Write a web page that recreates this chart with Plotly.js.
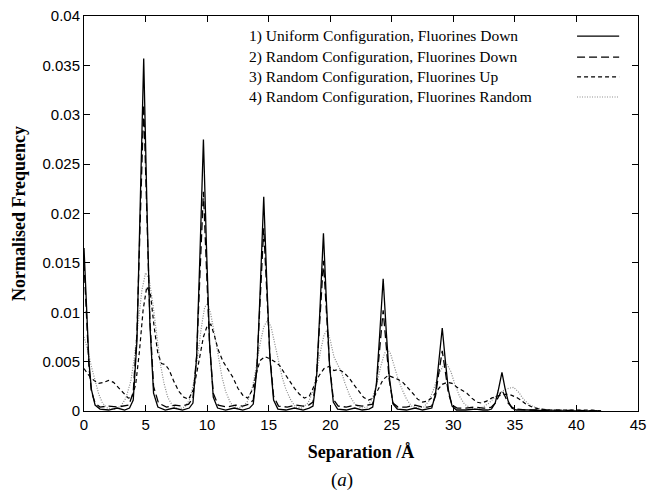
<!DOCTYPE html>
<html>
<head>
<meta charset="utf-8">
<script src="https://cdn.plot.ly/plotly-3.0.1.min.js"></script>
<style>html,body{margin:0;padding:0;background:#fff;}#chart{width:651px;height:493px;}</style>
</head>
<body>
<div id="chart"></div>
<script>
// Series names
const seriesNames = [
  "1) Uniform Configuration, Fluorines Down",
  "2) Random Configuration, Fluorines Down",
  "3) Random Configuration, Fluorines Up",
  "4) Random Configuration, Fluorines Random"
];

// 1) Uniform, Fluorines Down (solid)
const sep1 = [0,0.2,0.4,0.6,0.9,1.3,2.0,2.7,3.3,3.7,4.0,4.3,4.55,4.85,5.1,5.35,5.65,6.0,6.6,7.3,8.0,
  8.55,8.85,9.15,9.4,9.7,9.95,10.2,10.5,10.85,11.5,12.2,12.9,
  13.45,13.75,14.05,14.3,14.6,14.85,15.1,15.4,15.75,16.4,17.1,17.8,
  18.3,18.6,18.9,19.15,19.45,19.7,19.95,20.25,20.6,21.3,22.0,22.6,
  23.15,23.45,23.75,24.0,24.3,24.55,24.8,25.1,25.45,26.2,26.9,27.5,
  27.95,28.25,28.55,28.8,29.1,29.35,29.6,29.9,30.25,31.0,31.8,32.4,
  32.8,33.1,33.4,33.65,33.95,34.2,34.45,34.75,35.1,36.0,38.0,42.0];
const freq1 = [0.0165,0.0100,0.0050,0.0022,0.0006,0.0002,0.0001,0.0003,0.0001,0.0003,0.0011,0.0071,0.0196,0.0357,0.0214,0.0089,0.0018,0.0004,0.0001,0.0003,0.0001,
  0.0003,0.0008,0.0055,0.0151,0.0275,0.0165,0.0069,0.0014,0.0003,0.0001,0.0003,0.0001,
  0.0003,0.0007,0.0043,0.0119,0.0217,0.0130,0.0054,0.0011,0.0002,0.0001,0.0003,0.0001,
  0.0003,0.0005,0.0036,0.0099,0.0180,0.0108,0.0045,0.0009,0.0002,0.0001,0.0003,0.0001,
  0.0002,0.0004,0.0027,0.0074,0.0134,0.0081,0.0034,0.0007,0.0002,0.0001,0.0003,0.0001,
  0.0002,0.0003,0.0017,0.0046,0.0084,0.0051,0.0021,0.0005,0.0001,0.0001,0.0002,0.0001,
  0.0001,0.0002,0.0008,0.0021,0.0039,0.0023,0.0010,0.0003,0.0001,0.0001,0.0000,0.0000];

// 2) Random, Fluorines Down (long dash)
const sep2 = [0,0.2,0.4,0.6,0.9,1.3,2.0,2.7,3.3,3.65,4.0,4.3,4.55,4.85,5.1,5.35,5.65,6.05,6.7,7.4,8.0,
  8.5,8.85,9.15,9.4,9.7,9.95,10.2,10.5,10.9,11.6,12.3,12.9,
  13.4,13.75,14.05,14.3,14.6,14.85,15.1,15.4,15.8,16.5,17.2,17.8,
  18.25,18.6,18.9,19.15,19.45,19.7,19.95,20.25,20.65,21.3,22.0,22.6,
  23.1,23.45,23.75,24.0,24.3,24.55,24.8,25.1,25.5,26.2,26.9,27.5,
  27.9,28.25,28.55,28.8,29.1,29.35,29.6,29.9,30.3,31.0,31.8,32.4,
  32.75,33.1,33.4,33.65,33.95,34.2,34.45,34.75,35.15,36.0,38.0,42.0];
const freq2 = [0.0150,0.0090,0.0045,0.0020,0.0008,0.0004,0.0005,0.0004,0.0005,0.0006,0.0019,0.0078,0.0186,0.0310,0.0202,0.0093,0.0025,0.0008,0.0004,0.0006,0.0005,
  0.0007,0.0013,0.0056,0.0133,0.0222,0.0144,0.0067,0.0018,0.0006,0.0004,0.0006,0.0005,
  0.0007,0.0011,0.0046,0.0111,0.0185,0.0120,0.0056,0.0015,0.0005,0.0004,0.0006,0.0005,
  0.0006,0.0009,0.0038,0.0091,0.0152,0.0099,0.0046,0.0012,0.0005,0.0004,0.0006,0.0005,
  0.0006,0.0007,0.0026,0.0061,0.0102,0.0066,0.0031,0.0008,0.0004,0.0004,0.0006,0.0004,
  0.0004,0.0005,0.0015,0.0037,0.0061,0.0040,0.0018,0.0006,0.0003,0.0003,0.0004,0.0003,
  0.0003,0.0004,0.0008,0.0014,0.0021,0.0015,0.0008,0.0004,0.0002,0.0001,0.0001,0.0000];

// 3) Random, Fluorines Up (short dash)
const sep3 = [0,0.4,0.8,1.2,1.6,2.0,2.4,2.8,3.2,3.6,3.9,4.2,4.5,4.8,5.1,5.4,5.7,6.0,6.3,6.6,6.9,7.3,7.7,8.1,8.5,
  8.9,9.3,9.7,10.0,10.3,10.6,10.9,11.3,11.7,12.1,12.5,12.9,13.3,
  13.7,14.0,14.3,14.7,15.1,15.5,15.9,16.3,16.7,17.1,17.5,17.9,
  18.3,18.7,19.1,19.5,19.9,20.3,20.7,21.1,21.5,21.9,22.3,22.7,23.1,
  23.5,23.9,24.3,24.7,25.1,25.5,25.9,26.3,26.7,27.1,27.5,
  27.9,28.3,28.7,29.1,29.5,29.9,30.3,30.7,31.1,31.5,31.9,32.3,
  32.7,33.1,33.5,33.9,34.3,34.7,35.1,35.5,35.9,36.4,37.0,38.0,40.0,41.3,42.0];
const freq3 = [0.0043,0.0036,0.0031,0.0028,0.0029,0.0031,0.0029,0.0024,0.0018,0.0013,0.0014,0.0027,0.0060,0.0102,0.0126,0.0118,0.0085,0.0058,0.0048,0.0047,0.0042,0.0030,0.0020,0.0014,0.0012,
  0.0022,0.0048,0.0075,0.0086,0.0088,0.0076,0.0062,0.0050,0.0042,0.0034,0.0023,0.0016,0.0013,
  0.0022,0.0038,0.0051,0.0055,0.0053,0.0050,0.0046,0.0038,0.0030,0.0023,0.0017,0.0013,
  0.0015,0.0025,0.0036,0.0043,0.0045,0.0041,0.0042,0.0039,0.0034,0.0027,0.0020,0.0014,0.0011,
  0.0013,0.0022,0.0032,0.0036,0.0034,0.0032,0.0029,0.0024,0.0018,0.0012,0.0009,
  0.0010,0.0014,0.0021,0.0027,0.0029,0.0028,0.0024,0.0021,0.0018,0.0013,0.0009,0.0008,
  0.0010,0.0013,0.0015,0.0016,0.0017,0.0016,0.0014,0.0011,0.0007,0.0004,0.0002,0.0001,0.0001,0.0001,0.0000];

// 4) Random, Fluorines Random (dotted)
const sep4 = [0,0.3,0.6,0.9,1.2,1.5,1.9,2.5,3.0,3.4,3.8,4.1,4.4,4.7,5.0,5.3,5.6,5.9,6.2,6.5,6.8,7.2,7.7,
  8.2,8.6,8.9,9.2,9.5,9.8,10.05,10.3,10.6,10.9,11.2,11.5,11.9,12.4,
  12.9,13.3,13.7,14.0,14.3,14.6,14.9,15.2,15.5,15.8,16.1,16.4,16.8,17.2,17.7,
  18.2,18.6,18.9,19.2,19.5,19.75,20.0,20.3,20.6,20.9,21.2,21.6,22.0,22.5,
  23.0,23.4,23.8,24.1,24.4,24.65,24.9,25.2,25.5,25.8,26.2,26.6,27.1,
  27.6,28.0,28.4,28.8,29.2,29.5,29.8,30.1,30.5,30.9,31.4,31.9,
  32.4,32.9,33.3,33.7,34.1,34.5,34.9,35.3,35.7,36.2,36.8,37.5,39.0,42.0];
const freq4 = [0.0075,0.0062,0.0045,0.0030,0.0017,0.0008,0.0003,0.0002,0.0005,0.0013,0.0030,0.0055,0.0088,0.0122,0.0140,0.0133,0.0108,0.0075,0.0048,0.0028,0.0014,0.0005,0.0002,
  0.0004,0.0012,0.0028,0.0052,0.0082,0.0105,0.0109,0.0098,0.0078,0.0055,0.0035,0.0020,0.0008,0.0003,
  0.0004,0.0010,0.0025,0.0045,0.0068,0.0085,0.0092,0.0085,0.0068,0.0050,0.0034,0.0022,0.0011,0.0004,0.0003,
  0.0008,0.0020,0.0038,0.0060,0.0077,0.0082,0.0072,0.0055,0.0047,0.0040,0.0028,0.0015,0.0007,0.0003,
  0.0004,0.0012,0.0028,0.0045,0.0058,0.0063,0.0058,0.0045,0.0033,0.0023,0.0012,0.0005,0.0003,
  0.0004,0.0010,0.0022,0.0037,0.0046,0.0047,0.0040,0.0028,0.0015,0.0007,0.0003,0.0002,
  0.0004,0.0008,0.0013,0.0018,0.0021,0.0023,0.0024,0.0019,0.0012,0.0006,0.0003,0.0001,0.0001,0.0000];

// Axis ticks
const xTicks = [0,5,10,15,20,25,30,35,40,45];
const yTicks = [0,0.005,0.01,0.015,0.02,0.025,0.03,0.035,0.04];
const yTickLabels = ["0","0.005","0.01","0.015","0.02","0.025","0.03","0.035","0.04"];

const styles = [
  {color:"#000", width:1.3, dash:"solid"},
  {color:"#000", width:1.3, dash:"8px,4px"},
  {color:"#000", width:1.2, dash:"4px,3px"},
  {color:"#8a8a8a", width:1.2, dash:"1px,1.5px"}
];
const xs = [sep1, sep2, sep3, sep4];
const ys = [freq1, freq2, freq3, freq4];

const traces = [3,2,1,0].map(i => ({
  type:"scatter", mode:"lines", x: xs[i], y: ys[i], name: seriesNames[i],
  line: styles[i], showlegend:false, hoverinfo:"skip"
}));

const serif = "Liberation Serif, Times New Roman, serif";
const sans = "Liberation Sans, Arial, Helvetica, sans-serif";

// Legend (gnuplot-style: text left, sample right)
const rowY = [0.949, 0.896, 0.846, 0.795];
const annotations = seriesNames.map((t,i) => ({
  xref:"paper", yref:"paper", x:0.294, y:rowY[i], xanchor:"left", yanchor:"middle",
  text:t, showarrow:false, font:{family:serif, size:15.5, color:"#000"}
}));
annotations.push({
  xref:"paper", yref:"paper", x:0.465, y:-0.175, xanchor:"center", yanchor:"middle",
  text:"(<i>a</i>)", showarrow:false, font:{family:serif, size:19, color:"#000"}
});
const shapes = seriesNames.map((t,i) => ({
  type:"line", xref:"paper", yref:"paper", x0:0.890, x1:0.966, y0:rowY[i], y1:rowY[i],
  line:styles[i]
}));

const layout = {
  width:651, height:493,
  margin:{l:84, r:13, t:16, b:82},
  paper_bgcolor:"#fff", plot_bgcolor:"#fff",
  font:{family:sans, color:"#000", size:15},
  xaxis:{
    range:[0,45], tickvals:xTicks, ticks:"inside", ticklen:6, tickwidth:1, tickcolor:"#000",
    showline:true, linecolor:"#000", linewidth:1, mirror:"ticks", showgrid:false, zeroline:false,
    tickfont:{family:sans, size:15, color:"#000"},
    title:{text:"<b>Separation /Å</b>", font:{family:serif, size:18, color:"#000"}, standoff:13}
  },
  yaxis:{
    range:[0,0.04], tickvals:yTicks, ticktext:yTickLabels, ticks:"inside", ticklen:6, tickwidth:1, tickcolor:"#000",
    showline:true, linecolor:"#000", linewidth:1, mirror:"ticks", showgrid:false, zeroline:false,
    tickfont:{family:sans, size:15, color:"#000"},
    title:{text:"<b>Normalised Frequency</b>", font:{family:serif, size:18, color:"#000"}, standoff:12}
  },
  annotations, shapes
};

Plotly.newPlot("chart", traces, layout, {staticPlot:true, displayModeBar:false});
</script>
</body>
</html>
